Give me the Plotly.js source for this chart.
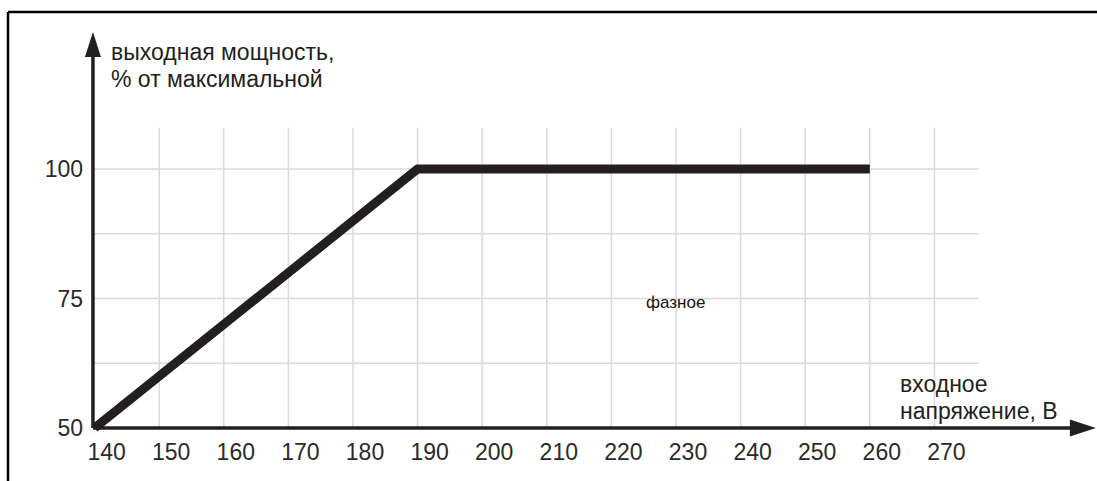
<!DOCTYPE html>
<html>
<head>
<meta charset="utf-8">
<script src="https://cdn.plot.ly/plotly-3.0.1.min.js"></script>
<style>html,body{margin:0;padding:0;background:#fff;}#chart{width:1097px;height:481px;}</style>
</head>
<body>
<div id="chart"></div>
<script>
// ---- data ----
const voltage = [140, 190, 260];          // входное напряжение, В
const power = [50, 100, 100];             // выходная мощность, %
const xTickVals = [140, 150, 160, 170, 180, 190, 200, 210, 220, 230, 240, 250, 260, 270];
const yTickVals = [50, 75, 100];
const gridX = [150, 160, 170, 180, 190, 200, 210, 220, 230, 240, 250, 260, 270];
const gridY = [62.5, 75, 87.5, 100];
const yTitleLines = ["выходная мощность,", "% от максимальной"];
const xTitleLines = ["входное", "напряжение, В"];
const noteText = "фазное";

// ---- layout geometry ----
const W = 1097, H = 481;
const X_RANGE = [125.36, 295.17];
const Y_RANGE = [39.77, 132.63];
const xOrigin = 139.75, yOrigin = 50;
const xTip = 295.0, yTip = 126.45;
const gridTop = 108, gridRight = 276.9;
const ink = '#231f20';
const gridColor = '#dadada';
const px = v => v / W, py = v => (H - v) / H;

const shapes = [];
gridX.forEach(g => shapes.push({type: 'line', xref: 'x', yref: 'y', x0: g, x1: g, y0: yOrigin, y1: gridTop,
  line: {color: gridColor, width: 1.5}, layer: 'below'}));
gridY.forEach(g => shapes.push({type: 'line', xref: 'x', yref: 'y', x0: xOrigin, x1: gridRight, y0: g, y1: g,
  line: {color: gridColor, width: 1.5}, layer: 'below'}));
// axes lines
shapes.push({type: 'line', xref: 'x', yref: 'y', x0: xOrigin, x1: xTip - 2.3, y0: yOrigin, y1: yOrigin,
  line: {color: ink, width: 3.5}});
shapes.push({type: 'line', xref: 'x', yref: 'y', x0: xOrigin, x1: xOrigin, y0: yOrigin, y1: yTip - 3,
  line: {color: ink, width: 3.5}});
// arrow heads
shapes.push({type: 'path', xref: 'x', yref: 'y', xsizemode: 'pixel', ysizemode: 'pixel',
  xanchor: xTip, yanchor: yOrigin, path: 'M0,0L-26,8.5L-26,-8.5Z', fillcolor: ink, line: {width: 0}});
shapes.push({type: 'path', xref: 'x', yref: 'y', xsizemode: 'pixel', ysizemode: 'pixel',
  xanchor: xOrigin, yanchor: yTip, path: 'M0,0L-8,-25L8,-25Z', fillcolor: ink, line: {width: 0}});
// frame
shapes.push({type: 'line', xref: 'paper', yref: 'paper', x0: px(8), x1: 1, y0: py(12), y1: py(12),
  line: {color: '#000', width: 2.5}});
shapes.push({type: 'line', xref: 'paper', yref: 'paper', x0: px(8), x1: px(8), y0: py(12), y1: 0,
  line: {color: '#000', width: 2.5}});

const font = {family: 'Liberation Sans, Arial, sans-serif', size: 23, color: ink};
const annotations = [
  {text: yTitleLines[0], xref: 'paper', yref: 'paper', x: px(111), y: py(52), xanchor: 'left', yanchor: 'middle', showarrow: false, font: font, borderpad: 0, borderwidth: 0},
  {text: yTitleLines[1], xref: 'paper', yref: 'paper', x: px(111), y: py(79), xanchor: 'left', yanchor: 'middle', showarrow: false, font: font, borderpad: 0, borderwidth: 0},
  {text: xTitleLines[0], xref: 'paper', yref: 'paper', x: px(900), y: py(383.5), xanchor: 'left', yanchor: 'middle', showarrow: false, font: font, borderpad: 0, borderwidth: 0},
  {text: xTitleLines[1], xref: 'paper', yref: 'paper', x: px(900), y: py(410.5), xanchor: 'left', yanchor: 'middle', showarrow: false, font: font, borderpad: 0, borderwidth: 0},
  {text: noteText, xref: 'x', yref: 'y', x: 230, y: 74.2, xanchor: 'center', yanchor: 'middle', showarrow: false,
    font: {family: font.family, size: 17, color: '#111'}}
];

const data = [{
  x: voltage, y: power, type: 'scatter', mode: 'lines',
  line: {color: ink, width: 9}, hoverinfo: 'skip'
}];

const layout = {
  width: W, height: H,
  margin: {l: 0, r: 0, t: 0, b: 0, pad: 0},
  paper_bgcolor: '#fff', plot_bgcolor: 'rgba(0,0,0,0)',
  showlegend: false,
  font: font,
  xaxis: {range: X_RANGE, domain: [0, 1], anchor: 'free', position: py(428), showgrid: false, zeroline: false,
    showline: false, ticks: '', tickmode: 'array', tickvals: xTickVals, ticktext: xTickVals.map(String),
    tickfont: {family: font.family, size: 23, color: '#2a2a2a'}, ticklabelshift: 12, ticklabelstandoff: 8, fixedrange: true},
  yaxis: {range: Y_RANGE, domain: [0, 1], anchor: 'free', position: px(93), showgrid: false, zeroline: false,
    showline: false, ticks: '', tickmode: 'array', tickvals: yTickVals, ticktext: yTickVals.map(String),
    tickfont: {family: font.family, size: 23, color: '#2a2a2a'}, ticklabelstandoff: 10, fixedrange: true},
  shapes: shapes,
  annotations: annotations
};

Plotly.newPlot('chart', data, layout, {displayModeBar: false, staticPlot: true});
</script>
</body>
</html>
